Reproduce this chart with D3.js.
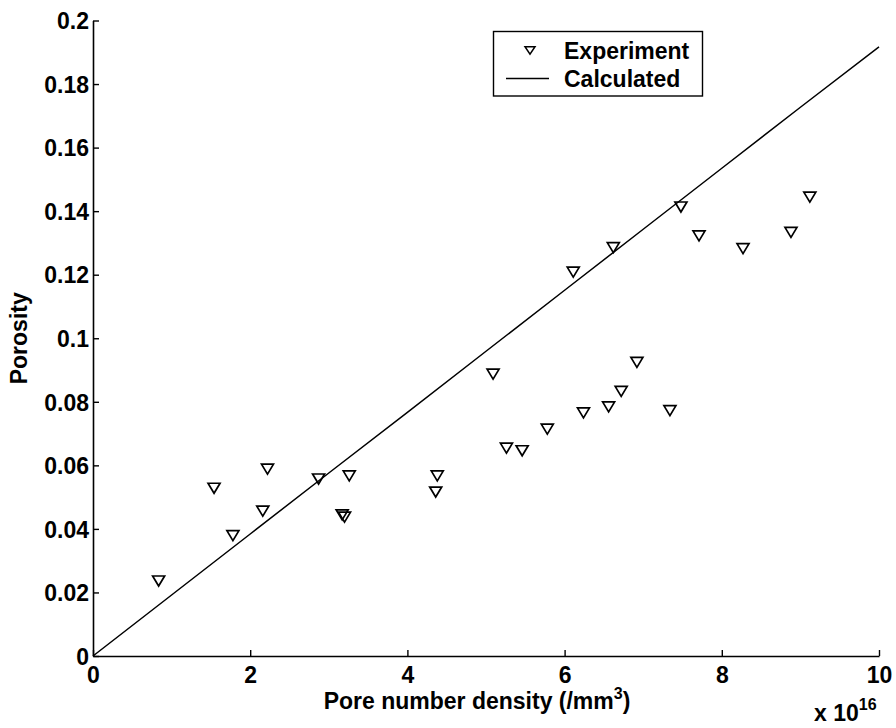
<!DOCTYPE html>
<html><head><meta charset="utf-8">
<script src="https://cdn.jsdelivr.net/npm/d3@7"></script>
<style>
html,body{margin:0;padding:0;background:#fff;}
svg text{font-family:"Liberation Sans",Arial,sans-serif;font-weight:bold;fill:#000;}
</style></head>
<body>
<svg id="chart" width="896" height="728"></svg>
<script>
// Experiment data: pore number density (x1e16 /mm^3), porosity
const expX = [0.835, 1.54, 1.78, 2.16, 2.22, 2.87, 3.17, 3.20, 3.26, 4.36, 4.38, 5.09, 5.26, 5.46, 5.78, 6.11, 6.24, 6.56, 6.62, 6.72, 6.92, 7.34, 7.48, 7.71, 8.27, 8.88, 9.12];
const expY = [0.0236, 0.0528, 0.0379, 0.0456, 0.0588, 0.0557, 0.0444, 0.0437, 0.0567, 0.0516, 0.0567, 0.0887, 0.0654, 0.0646, 0.0714, 0.1208, 0.0765, 0.0784, 0.1285, 0.0833, 0.0924, 0.0772, 0.1413, 0.1322, 0.1282, 0.1333, 0.1444];
// Calculated curve
const calcX = [0, 1, 2, 3, 4, 5, 6, 7, 8, 9, 10];
const calcY = [0, 0.0192, 0.0384, 0.0576, 0.0767, 0.0959, 0.1151, 0.1343, 0.1535, 0.1727, 0.1917];
const xTicks = [0, 2, 4, 6, 8, 10];
const yTicks = [0, 0.02, 0.04, 0.06, 0.08, 0.1, 0.12, 0.14, 0.16, 0.18, 0.2];
const legendLabels = ["Experiment", "Calculated"];
const xLabel = "Pore number density (/mm";
const yLabel = "Porosity";

const svg = d3.select("#chart");
const L = 93, R = 879, T = 20.5, B = 656;
const x = d3.scaleLinear().domain([0, 10]).range([L, R]);
const y = d3.scaleLinear().domain([0, 0.2]).range([B, T]);
const fs = 23;

// Axes (inward ticks)
const xAxis = d3.axisBottom(x).tickValues(xTicks).tickSizeInner(-6).tickSizeOuter(0).tickPadding(12).tickFormat(d => String(d));
const gx = svg.append("g").attr("transform", `translate(0,${B})`).call(xAxis);
gx.select(".domain").attr("stroke", "#000").attr("stroke-width", 1.6);
gx.selectAll(".tick line").attr("stroke", "#000").attr("stroke-width", 1.4);
gx.selectAll(".tick text").attr("font-size", fs).attr("dy", null).attr("y", 27);

const yAxis = d3.axisLeft(y).tickValues(yTicks).tickSizeInner(-6).tickSizeOuter(0).tickPadding(10).tickFormat(d => String(+d.toFixed(2)));
const gy = svg.append("g").attr("transform", `translate(${L},0)`).call(yAxis);
gy.select(".domain").attr("stroke", "#000").attr("stroke-width", 1.6);
gy.selectAll(".tick line").attr("stroke", "#000").attr("stroke-width", 1.4);
gy.selectAll(".tick text").attr("font-size", fs).attr("x", -4).attr("dy", "0.36em");

// Calculated line
const line = d3.line().x((d, i) => x(calcX[i])).y(d => y(d));
svg.append("path").datum(calcY).attr("d", line)
  .attr("fill", "none").attr("stroke", "#000").attr("stroke-width", 1.5);

// Experiment markers (downward triangles)
const tri = (w, h) => `M${-w/2},${-h/2}L${w/2},${-h/2}L0,${h/2}Z`;
svg.append("g").selectAll("path").data(expX).join("path")
  .attr("transform", (d, i) => `translate(${x(d)},${y(expY[i])})`)
  .attr("d", tri(12, 10))
  .attr("fill", "none").attr("stroke", "#000").attr("stroke-width", 1.7).attr("stroke-linejoin", "miter");

// Axis labels
const xl = svg.append("text").attr("x", 477).attr("y", 709).attr("text-anchor", "middle").attr("font-size", fs);
xl.append("tspan").text(xLabel);
xl.append("tspan").attr("font-size", 16).attr("dy", -10).text("3");
xl.append("tspan").attr("dy", 10).text(")");

svg.append("text").attr("transform", `translate(26.5,${(T + B) / 2}) rotate(-90)`)
  .attr("text-anchor", "middle").attr("font-size", fs).text(yLabel);

// Exponent
const ex = svg.append("text").attr("x", 814).attr("y", 721).attr("font-size", fs);
ex.append("tspan").text("x 10");
ex.append("tspan").attr("font-size", 16).attr("dy", -11).text("16");

// Legend
const lg = svg.append("g");
lg.append("rect").attr("x", 493.5).attr("y", 31.5).attr("width", 209).attr("height", 64.5)
  .attr("fill", "#fff").attr("stroke", "#000").attr("stroke-width", 1.4);
lg.append("path").attr("transform", "translate(530,50.5)").attr("d", tri(10, 7.5))
  .attr("fill", "none").attr("stroke", "#000").attr("stroke-width", 1.5);
lg.append("line").attr("x1", 506).attr("x2", 549).attr("y1", 78.5).attr("y2", 78.5)
  .attr("stroke", "#000").attr("stroke-width", 1.5);
lg.selectAll("text.lt").data(legendLabels).join("text").attr("class", "lt")
  .attr("x", 564).attr("y", (d, i) => 58.5 + i * 28).attr("font-size", fs).text(d => d);
</script>
</body></html>
